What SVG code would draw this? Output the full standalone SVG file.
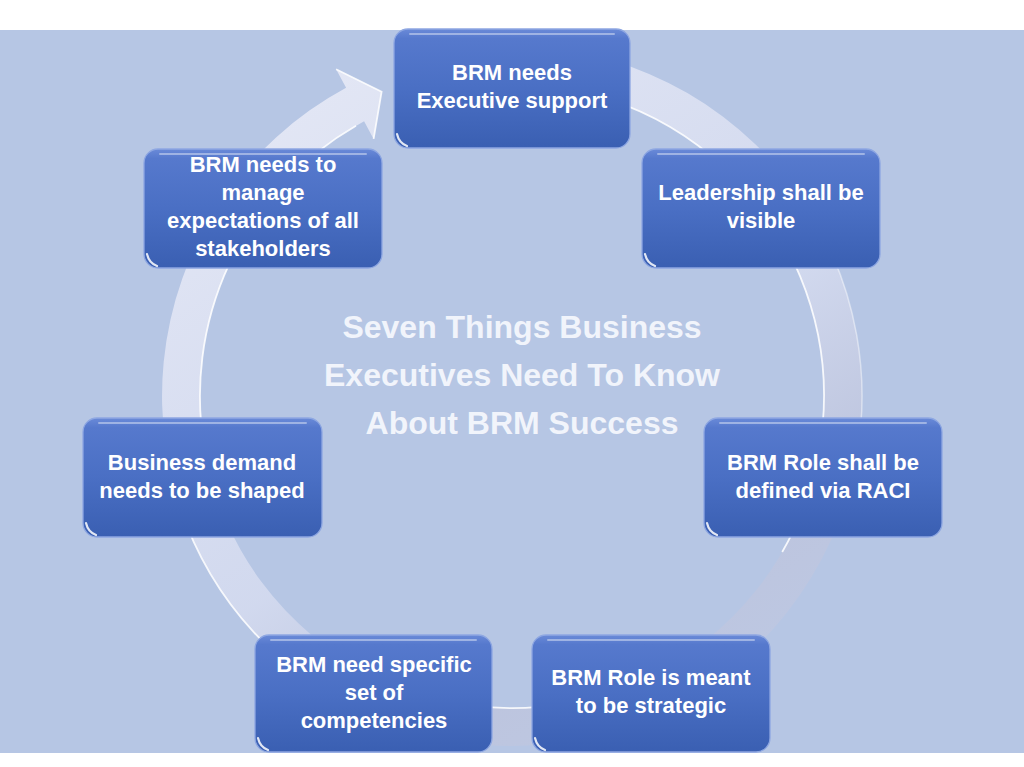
<svg xmlns="http://www.w3.org/2000/svg" width="1024" height="767" viewBox="0 0 1024 767">
<style>
.box{fill:url(#boxGrad);stroke:#8ea7e2;stroke-width:1.3}
.hl{fill:none;stroke:#ffffff;stroke-opacity:0.4;stroke-width:2;stroke-linecap:round}
.cn{fill:none;stroke:#ffffff;stroke-opacity:0.85;stroke-width:2.2;stroke-linecap:round}
.t{fill:#ffffff;font-family:"Liberation Sans",Arial,sans-serif;font-weight:bold;font-size:22px;text-anchor:middle}
.title{fill:#f1f4fb;font-family:"Liberation Sans",Arial,sans-serif;font-weight:bold;font-size:32px;text-anchor:middle}
.edge{fill:none;stroke:#ffffff;stroke-width:1.8;stroke-opacity:0.85}
.edge2{fill:none;stroke:#ffffff;stroke-width:1.5;stroke-opacity:0.45}
</style>
<defs>
<linearGradient id="boxGrad" x1="0" y1="0" x2="0" y2="1">
<stop offset="0" stop-color="#6a8ad8"/>
<stop offset="0.08" stop-color="#5679cd"/>
<stop offset="0.5" stop-color="#4a6fc4"/>
<stop offset="1" stop-color="#3a5fb2"/>
</linearGradient>
<linearGradient id="ringGrad" gradientUnits="userSpaceOnUse" x1="300" y1="60" x2="720" y2="740">
<stop offset="0" stop-color="#e6e9f6" stop-opacity="0.95"/>
<stop offset="0.55" stop-color="#d6dcf0" stop-opacity="0.85"/>
<stop offset="0.8" stop-color="#bfc4dc" stop-opacity="0.75"/>
<stop offset="1" stop-color="#c4cae2" stop-opacity="0.45"/>
</linearGradient>
</defs>
<rect x="0" y="0" width="1024" height="767" fill="#ffffff"/>
<rect x="0" y="30" width="1024" height="723" fill="#b6c6e4"/>
<g id="connectors">
<path d="M481.5,47.3 A350,350 0 1 1 346.1,87.8 L336.1,69.3 L381.6,91.8 L373.6,138.9 L364.1,121.3 A312,312 0 1 0 484.8,85.2 Z" fill="url(#ringGrad)"/>
<path class="edge" d="M592.7,94.6 A312,312 0 0 1 782.2,552"/>
<path class="edge" d="M566.2,703.3 A312,312 0 0 1 436.5,698.7"/>
<path class="edge" d="M204.7,450.2 A312,312 0 0 1 356,125.8"/>
<path class="edge" d="M392.3,724.9 A350,350 0 0 1 173.9,486.6"/>
<path class="edge2" d="M815.1,221 A350,350 0 0 1 856.7,456.8"/>
<path class="edge" d="M336.1,69.3 L381.6,91.8 L373.6,138.9"/>
</g>
<g id="title">
<text class="title" x="522" y="338">Seven Things Business</text>
<text class="title" x="522" y="386">Executives Need To Know</text>
<text class="title" x="522" y="434">About BRM Success</text>
</g>
<g id="n1">
<rect class="box" x="394" y="29" width="236" height="119" rx="14"/>
<path class="hl" d="M410,34 L614,34"/>
<path class="cn" d="M397,134 Q399,143 407,146"/>
<text class="t" x="512" y="80">BRM needs</text>
<text class="t" x="512" y="108">Executive support</text>
</g>
<g id="n2">
<rect class="box" x="642" y="149" width="238" height="119" rx="14"/>
<path class="hl" d="M658,154 L864,154"/>
<path class="cn" d="M645,254 Q647,263 655,266"/>
<text class="t" x="761" y="200">Leadership shall be</text>
<text class="t" x="761" y="228">visible</text>
</g>
<g id="n3">
<rect class="box" x="144" y="149" width="238" height="119" rx="14"/>
<path class="hl" d="M160,154 L366,154"/>
<path class="cn" d="M147,254 Q149,263 157,266"/>
<text class="t" x="263" y="172">BRM needs to</text>
<text class="t" x="263" y="200">manage</text>
<text class="t" x="263" y="228">expectations of all</text>
<text class="t" x="263" y="256">stakeholders</text>
</g>
<g id="n4">
<rect class="box" x="83" y="418" width="239" height="119" rx="14"/>
<path class="hl" d="M99,423 L306,423"/>
<path class="cn" d="M86,523 Q88,532 96,535"/>
<text class="t" x="202" y="470">Business demand</text>
<text class="t" x="202" y="498">needs to be shaped</text>
</g>
<g id="n5">
<rect class="box" x="704" y="418" width="238" height="119" rx="14"/>
<path class="hl" d="M720,423 L926,423"/>
<path class="cn" d="M707,523 Q709,532 717,535"/>
<text class="t" x="823" y="470">BRM Role shall be</text>
<text class="t" x="823" y="498">defined via RACI</text>
</g>
<g id="n6">
<rect class="box" x="255" y="635" width="237" height="117" rx="14"/>
<path class="hl" d="M271,640 L476,640"/>
<path class="cn" d="M258,738 Q260,747 268,750"/>
<text class="t" x="374" y="672">BRM need specific</text>
<text class="t" x="374" y="700">set of</text>
<text class="t" x="374" y="728">competencies</text>
</g>
<g id="n7">
<rect class="box" x="532" y="635" width="238" height="117" rx="14"/>
<path class="hl" d="M548,640 L754,640"/>
<path class="cn" d="M535,738 Q537,747 545,750"/>
<text class="t" x="651" y="685">BRM Role is meant</text>
<text class="t" x="651" y="713">to be strategic</text>
</g>
</svg>
